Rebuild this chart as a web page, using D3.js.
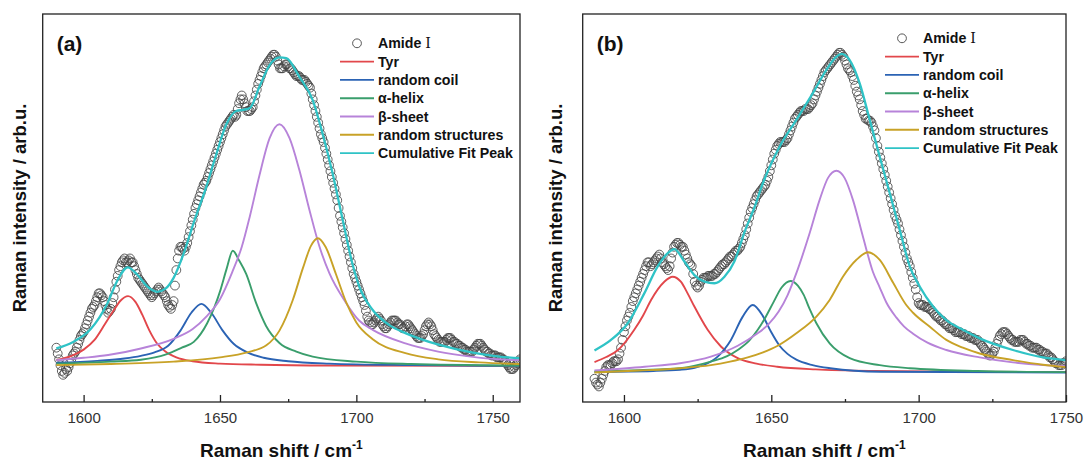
<!DOCTYPE html>
<html>
<head>
<meta charset="utf-8">
<script src="https://cdn.jsdelivr.net/npm/d3@7"></script>
<style>
body { margin: 0; background: #fff; }
svg { display: block; font-family: "Liberation Sans", Arial, sans-serif; }
</style>
</head>
<body>
<script>
// legend entries and colours of the fitted components
var legendNames = ["Tyr", "random coil", "α-helix", "β-sheet", "random structures", "Cumulative Fit Peak"];
var lineColors = ["#e2474b", "#2b63b4", "#3a9e6c", "#b783d9", "#c8a227", "#2fc3c6"];

var majorTicks = [1600, 1650, 1700, 1750];
var minorTicks = [1625, 1675, 1725];

// ---------- panel (a) ----------
// measured Amide I points read at whole cm-1 (from 1590) and at the half steps between them
var amideA = [
    14, 11, 8, 7.5, 8, 10, 12, 13, 15, 17,
    18, 20, 22, 24, 25, 27, 28, 27, 25, 23,
    24, 27, 31, 34, 36, 37, 36, 37, 36, 34,
    32, 31, 30, 29, 28, 27, 28, 29, 29, 28,
    27, 25, 24, 26, 34, 39, 40, 39, 41, 44,
    47, 50, 52, 54, 56, 57, 59, 61, 63, 65,
    67, 69, 71, 72, 73, 74, 74, 77, 79, 77,
    75, 75, 76, 79, 82, 84, 86, 87, 88, 89,
    89.5, 88, 86, 86, 87, 86.5, 86, 85, 84, 84,
    83, 83, 82, 81, 78, 75, 72, 69, 67, 64,
    61, 58, 55, 52, 48, 45, 42, 39, 36, 33,
    31, 29, 27, 25, 22, 20.5, 20, 21, 22, 21,
    19.5, 19, 20, 21, 21, 20.5, 20, 19, 19.5, 20,
    19, 18, 17, 16.5, 17, 18.5, 20, 20, 18.5, 17,
    16, 15.5, 15.5, 16, 16.5, 16, 15.5, 15, 14.5, 14,
    13.5, 13, 13, 13.5, 14.5, 15, 14.5, 13.5, 13, 12.5,
    12, 12, 11.5, 11.5, 11, 10, 9, 8.5, 9, 10,
    11
];
var amideAHalf = [
    12.5, 9.5, 7, 8.5, 9, 11, 12.5, 14, 16, 17.5,
    19, 21, 23, 24.5, 26, 28, 27.5, 26, 24, 23.5,
    25.5, 29, 32.5, 35, 36.5, 36, 36.5, 36, 35, 33,
    31.5, 30.5, 29.5, 28.5, 27.5, 27.5, 28.5, 29.5, 28.5, 27.5,
    26, 24.5, 25, 30, 37, 40, 39.5, 40, 42.5, 45.5,
    48.5, 51, 53, 55, 56.5, 58, 60, 62, 64, 66,
    68, 70, 71.5, 72.5, 73.5, 73.5, 75.5, 78, 78, 76,
    75, 75.5, 77.5, 80.5, 83, 85, 86.5, 87.5, 88.5, 89.5,
    89, 87, 86, 86.5, 87, 86, 85.5, 84.5, 84, 83.5,
    83, 82.5, 81.5, 79.5, 76.5, 73.5, 70.5, 68, 65.5, 62.5,
    59.5, 56.5, 53.5, 50, 46.5, 43.5, 40.5, 37.5, 34.5, 32,
    30, 28, 26, 23.5, 21, 20, 20.5, 21.5, 21.5, 20,
    19, 19.5, 20.5, 21, 21, 20, 19.5, 19, 20, 19.5,
    18.5, 17.5, 16.5, 16.5, 17.5, 19.5, 20.5, 19.5, 17.5, 16.5,
    15.5, 15.5, 15.5, 16.5, 16.5, 15.5, 15, 14.5, 14, 13.5,
    13, 13, 13, 14, 15, 15, 14, 13, 12.5, 12,
    12, 11.5, 11.5, 11, 10.5, 9.5, 8.5, 8.5, 9.5, 10.5
];
var tyrA = [[1590,10.8],[1596,12],[1600,13.5],[1604,16],[1608,20.3],[1611,23.6],[1613.5,26.1],[1616.3,27.3],
    [1619,25.8],[1621.5,22.5],[1624,18.6],[1627,15],[1630,13],[1634,11.5],[1640,10.5],[1650,9.9],[1665,9.6],[1690,9.4],[1760,9.3]];
var coilA = [[1590,10.1],[1605,10.6],[1615,11.2],[1621,11.9],[1626,12.8],[1631,14.5],[1635.5,18.4],[1639.5,23],[1643.2,25.3],
    [1646.8,23],[1650.8,18.6],[1655,15],[1660,12.8],[1666,11.4],[1675,10.5],[1690,9.9],[1720,9.5],[1760,9.3]];
var helixA = [[1590,9.9],[1610,10.4],[1621,10.9],[1630,12.2],[1636,14],[1640.4,15.5],[1645.3,20.3],[1648,24.5],[1650.2,28.9],
    [1652.5,34.5],[1654.7,39],[1657,36.5],[1659.6,33],[1663.3,25.4],[1666.9,19.6],[1671.8,15.2],[1678,13],[1684,11.7],
    [1700,10.4],[1720,9.8],[1760,9.4]];
var sheetA = [[1590,10.8],[1600,11.4],[1609,12.1],[1621,13.8],[1633,16.3],[1640,18.8],[1645,22],[1650,26.5],[1654.5,33.5],
    [1658,40],[1661,48],[1664.5,58.5],[1668.2,68],[1671.8,71.6],[1675.5,68],[1679.1,59.8],[1682.8,49.5],[1686.5,40],
    [1690.1,33.2],[1696,25.8],[1701,21],[1706,18.6],[1718,15.1],[1730,13],[1742,11.7],[1752,11],[1760,10.8]];
var randA = [[1590,9.5],[1610,9.8],[1633,10.4],[1650,11.5],[1660,12.8],[1667,14.6],[1671.8,18.4],[1676.7,26.3],[1680.4,34.5],
    [1683.4,40.3],[1685.9,42.2],[1688.7,40],[1692.5,33],[1696.2,25.8],[1700,20.5],[1706,16.2],[1718,12.6],[1730,11],
    [1745,10.2],[1760,9.8]];
var cumA = [[1590,13.8],[1596,15.4],[1602.6,18.8],[1608.7,25.4],[1612.3,31.2],[1616.2,34.7],[1619.7,32.8],[1623.3,29.8],
    [1627,28.4],[1630,29.2],[1633,32],[1636.8,38.5],[1640.5,46.5],[1645,55.5],[1648.5,63.5],[1652.3,71.5],[1656,75],
    [1658.5,75.3],[1661,75.8],[1664.5,81.3],[1668.2,86.8],[1671.8,88.8],[1674.3,88.6],[1679.1,83.8],[1684,77.8],
    [1687.6,69.2],[1691.3,58.9],[1695,46.9],[1698.6,35.5],[1701.1,29.7],[1706,23.7],[1712.1,19.8],[1718.2,17.7],
    [1730.5,14.7],[1742.7,12.7],[1752.4,11.7],[1760,11.3]];

// ---------- panel (b) ----------
var amideB = [
    6, 4.5, 5, 7, 9, 9.5, 10, 10.5, 11, 14,
    18, 21, 23, 26, 28, 30, 32, 34, 36, 35,
    36, 37, 38, 36, 35, 34, 37, 40, 41, 40.5,
    40, 38, 36, 35, 31, 29.5, 31, 32, 32, 32.5,
    32.5, 33, 34, 35, 35.5, 36.5, 37.5, 38, 39, 39.5,
    41, 43, 46, 49, 51, 53, 54, 55, 56, 58,
    61, 64, 66, 67, 67, 67.5, 69, 71, 73, 74,
    75, 75, 75.5, 76, 77, 79, 81, 83, 85, 86,
    87, 88, 89, 90, 89.5, 88, 86, 85, 83, 80,
    78, 75, 73, 72.5, 72, 70, 66, 63, 60, 57,
    54, 51, 48, 46, 43, 40, 37, 35, 32, 29,
    25.5, 25, 24.5, 24.5, 24, 23, 22, 21.5, 21, 20,
    19.5, 19, 18.5, 18, 18, 17.5, 17, 17, 16.5, 16,
    16, 15, 14, 13, 12, 12.5, 14, 16, 17.5, 18,
    17.5, 16.5, 16, 15.5, 15.5, 16, 15.5, 15, 14.5, 14,
    14, 13.5, 13, 12.5, 12, 11.5, 10.5, 10, 9.5, 10,
    10.5
];
var amideBHalf = [
    5, 4, 6, 8, 9.5, 9.5, 10.5, 10.5, 12.5, 16,
    19.5, 22, 24.5, 27, 29, 31, 33, 35, 36, 35.5,
    36.5, 37.5, 37, 35.5, 34.5, 35, 38.5, 40.5, 41, 40,
    39, 37, 35.5, 33, 30, 30, 31.5, 32, 32.5, 32.5,
    33, 33.5, 34.5, 35.5, 36, 37, 37.5, 38.5, 39, 40,
    42, 44.5, 47.5, 50, 52, 53.5, 54.5, 55.5, 57, 59.5,
    62.5, 65, 66.5, 67, 67, 68, 70, 72, 73.5, 74.5,
    75, 75.5, 75.5, 76.5, 78, 80, 82, 84, 85.5, 86.5,
    87.5, 88.5, 89.5, 90, 89, 87, 85.5, 84, 81.5, 79,
    76.5, 74, 73, 72.5, 71, 68, 64.5, 61.5, 58.5, 55.5,
    52.5, 49.5, 47, 44.5, 41.5, 38.5, 36, 33.5, 30.5, 27,
    25, 25, 24.5, 24, 23.5, 22.5, 22, 21, 20.5, 20,
    19, 19, 18, 18, 17.5, 17.5, 17, 16.5, 16.5, 16,
    15.5, 14.5, 13.5, 12.5, 12, 13, 15, 17, 18, 18,
    17, 16, 15.5, 15.5, 16, 16, 15, 14.5, 14, 14,
    13.5, 13, 12.5, 12.5, 11.5, 11, 10, 9.5, 9.5, 10
];
var tyrB = [[1590,10.3],[1594,11.6],[1598,13.4],[1603.5,18.6],[1606.5,22.3],[1609.2,26.3],[1613.7,31],[1616.5,32.3],
    [1619.3,31],[1621.6,28],[1623.9,24.6],[1628.4,18.6],[1632.9,14.3],[1638.6,11.3],[1645,9.9],[1652,9.1],[1665,8.4],
    [1685,8],[1720,7.8],[1750,7.7]];
var coilB = [[1590,7.8],[1610,8],[1619,8.3],[1624,8.8],[1627.3,9.6],[1631.8,11.7],[1636.3,16],[1640.3,22],[1643.7,25],
    [1647.1,22.2],[1649.9,18.1],[1652.8,14.5],[1655.5,12.4],[1658.5,10.9],[1664,9.5],[1670,8.7],[1687,7.8],[1750,7.6]];
var helixB = [[1590,7.8],[1605,8.2],[1619,8.7],[1629.5,10.4],[1635,11.8],[1638.6,13.4],[1642.5,15.8],[1645.4,18.6],
    [1648,21.8],[1650.8,25.8],[1653.5,29.5],[1656.5,31.2],[1659,30],[1661,27.6],[1663,24],[1665.3,20.3],[1669.8,15.1],
    [1676.6,11.3],[1686.8,9.5],[1697,8.7],[1720,8],[1750,7.7]];
var sheetB = [[1590,8.1],[1607,9.1],[1619,10],[1629.5,11.7],[1638.6,14.5],[1645,17.5],[1649,20],[1652.5,23.3],[1655.5,27.5],
    [1658.5,33.2],[1663,43.5],[1666.4,52.1],[1669.2,57.7],[1672.1,59.6],[1674.9,57.7],[1677.7,52.1],[1681.1,42.6],
    [1684.5,33.5],[1686.8,29.5],[1689,25.7],[1692.4,21.8],[1695,19.5],[1698.1,17.6],[1703,15.3],[1709.4,13.4],
    [1720.7,11.5],[1732,10.2],[1742.2,9.5],[1750,9.2]];
var randB = [[1590,7.6],[1605,8.1],[1619,8.7],[1629.5,9.5],[1636,10.4],[1642,11.5],[1647.2,12.8],[1652.2,14.5],[1658.5,17.7],
    [1665.3,22],[1669.8,26.3],[1674.3,32.3],[1678.8,36.6],[1682.8,38.6],[1686.8,36.6],[1691.3,30.8],[1695.8,25],
    [1698.1,23],[1703.8,19.4],[1709.4,16],[1715,14],[1720.7,12.5],[1732,10.8],[1742.2,9.6],[1750,9]];
var cumB = [[1590,13.3],[1595.6,16],[1601.3,20.3],[1606.9,28],[1611.4,34.9],[1614.8,38.3],[1617.1,39.4],[1620.5,36.2],
    [1623.9,32.7],[1627.3,31],[1630.7,30.6],[1634.1,32.3],[1637.5,36.3],[1641,44],[1644.2,50],[1647.2,56.5],[1652.8,65.8],
    [1658.5,72.7],[1664.1,79.6],[1668.7,85.6],[1672.1,89],[1673.8,89.7],[1676.6,88.1],[1680,82.1],[1683.4,72.7],
    [1686.8,63.2],[1690.2,53.8],[1693.6,44.3],[1697,34.9],[1700.4,29.7],[1704.9,24.6],[1709.4,21.1],[1715,18.6],
    [1720.7,16.4],[1732,13.4],[1742.2,11.5],[1750,10.8]];

var width = 1087;
var height = 461;
var plotTop = 14;
var plotBottom = 402;

var svg = d3.select("body")
    .append("svg")
    .attr("width", width)
    .attr("height", height);

function drawPanel(p) {
    var x = d3.scaleLinear().domain(p.domain).range([p.left, p.right]);
    var y = d3.scaleLinear().domain([0, 100]).range([plotBottom, plotTop]);

    // pair every Amide I value with its shift: whole cm-1 from 1590, and the half steps
    var points = [];
    p.amide.forEach(function(v, i) { points.push([1590 + i, v]); });
    p.amideHalf.forEach(function(v, i) { points.push([1590.5 + i, v]); });
    points.sort(function(a, b) { return a[0] - b[0]; });

    svg.append("clipPath").attr("id", "clip" + p.name)
        .append("rect")
        .attr("x", p.left).attr("y", plotTop)
        .attr("width", p.right - p.left).attr("height", plotBottom - plotTop);

    var g = svg.append("g");
    var plot = g.append("g").attr("clip-path", "url(#clip" + p.name + ")");

    // open circles of the measured band
    plot.selectAll("circle")
        .data(points)
        .enter()
        .append("circle")
        .attr("cx", function(d) { return x(d[0]); })
        .attr("cy", function(d) { return y(d[1]); })
        .attr("r", 4.4)
        .attr("fill", "none")
        .attr("stroke", "#454545")
        .attr("stroke-width", 0.85);

    var line = d3.line()
        .x(function(d) { return x(d[0]); })
        .y(function(d) { return y(d[1]); })
        .curve(d3.curveMonotoneX);

    // component peaks, then the cumulative fit on top
    p.comps.forEach(function(c, i) {
        plot.append("path")
            .attr("d", line(c))
            .attr("fill", "none")
            .attr("stroke", lineColors[i])
            .attr("stroke-width", 1.9);
    });
    plot.append("path")
        .attr("d", line(p.cum))
        .attr("fill", "none")
        .attr("stroke", lineColors[5])
        .attr("stroke-width", 2.3);

    // frame
    g.append("rect")
        .attr("x", p.left).attr("y", plotTop)
        .attr("width", p.right - p.left).attr("height", plotBottom - plotTop)
        .attr("fill", "none")
        .attr("stroke", "#222")
        .attr("stroke-width", 1.3);

    // bottom axis, ticks pointing inwards
    var axis = g.append("g")
        .attr("transform", "translate(0," + plotBottom + ")")
        .call(d3.axisBottom(x).tickValues(majorTicks).tickSizeInner(-7).tickSizeOuter(0).tickPadding(10.5)
            .tickFormat(d3.format("d")));
    axis.select(".domain").remove();
    axis.selectAll("line").attr("stroke", "#222").attr("stroke-width", 1.3);
    axis.selectAll("text").attr("font-size", "15px").attr("fill", "#333")
        .attr("font-family", "'Liberation Sans', Arial, sans-serif");

    var minor = g.append("g")
        .attr("transform", "translate(0," + plotBottom + ")")
        .call(d3.axisBottom(x).tickValues(minorTicks).tickSizeInner(-3).tickSizeOuter(0).tickFormat(""));
    minor.select(".domain").remove();
    minor.selectAll("line").attr("stroke", "#222").attr("stroke-width", 1.3);

    // axis titles
    var xt = g.append("text")
        .attr("x", (p.left + p.right) / 2)
        .attr("y", 457)
        .attr("text-anchor", "middle")
        .attr("font-size", "19px")
        .attr("font-weight", "bold")
        .attr("fill", "#111");
    xt.append("tspan").text("Raman shift / cm");
    xt.append("tspan").attr("font-size", "12px").attr("dy", "-8").text("-1");

    g.append("text")
        .attr("transform", "translate(" + p.yTitleX + "," + ((plotTop + plotBottom) / 2) + ") rotate(-90)")
        .attr("text-anchor", "middle")
        .attr("font-size", "18.5px")
        .attr("font-weight", "bold")
        .attr("fill", "#111")
        .text("Raman intensity / arb.u.");

    // panel letter
    g.append("text")
        .attr("x", p.left + 14)
        .attr("y", 51)
        .attr("font-size", "21px")
        .attr("font-weight", "bold")
        .attr("fill", "#111")
        .text("(" + p.name + ")");

    // legend
    var lx = p.legendX;
    var ly = p.legendY;
    var step = 18.3;
    g.append("circle")
        .attr("cx", lx + 17).attr("cy", ly)
        .attr("r", 4.4)
        .attr("fill", "none")
        .attr("stroke", "#454545")
        .attr("stroke-width", 0.9);
    var at = g.append("text")
        .attr("x", lx + 38).attr("y", ly + 5)
        .attr("font-size", "14.2px")
        .attr("font-weight", "bold")
        .attr("fill", "#111");
    at.append("tspan").text("Amide ");
    at.append("tspan").attr("font-family", "'DejaVu Serif', serif").attr("font-weight", "normal").text("Ⅰ");

    legendNames.forEach(function(name, i) {
        var yy = ly + step * (i + 1);
        g.append("line")
            .attr("x1", lx).attr("x2", lx + 34)
            .attr("y1", yy).attr("y2", yy)
            .attr("stroke", lineColors[i])
            .attr("stroke-width", 1.9);
        g.append("text")
            .attr("x", lx + 38).attr("y", yy + 5)
            .attr("font-size", "14.2px")
            .attr("font-weight", "bold")
            .attr("fill", "#111")
            .text(name);
    });
}

drawPanel({
    name: "a", domain: [1585, 1760], left: 42.7, right: 520,
    amide: amideA, amideHalf: amideAHalf, comps: [tyrA, coilA, helixA, sheetA, randA], cum: cumA,
    legendX: 340, legendY: 43.3, yTitleX: 26
});

drawPanel({
    name: "b", domain: [1586, 1750], left: 582.7, right: 1066,
    amide: amideB, amideHalf: amideBHalf, comps: [tyrB, coilB, helixB, sheetB, randB], cum: cumB,
    legendX: 885, legendY: 38.3, yTitleX: 562
});
</script>
</body>
</html>
